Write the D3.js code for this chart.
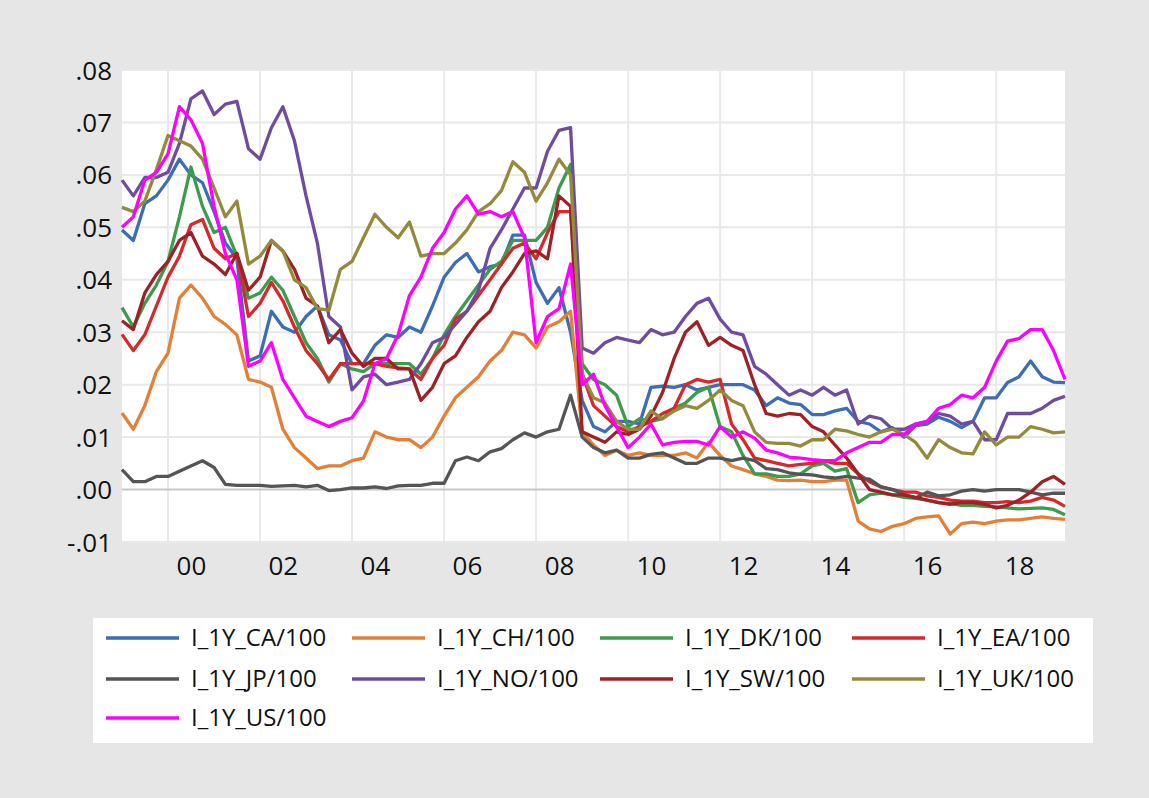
<!DOCTYPE html>
<html>
<head>
<meta charset="utf-8">
<script src="https://cdn.jsdelivr.net/npm/d3@7"></script>
<style>
  body { margin: 0; background: #e6e6e6; }
  text { font-family: "Open Sans", "Noto Sans", sans-serif; fill: #111; }
</style>
</head>
<body>
<div id="chart"></div>
<script>
// quarterly observations, 1999Q1 .. 2019Q3 (values in percent, plotted /100)
const startYear = 1999;
const nObs = 83;

const CA = [4.95, 4.75, 5.45, 5.6, 5.9, 6.3, 6.0, 5.85, 5.3, 4.7, 4.4, 2.45, 2.55, 3.4, 3.1, 3.0,
  3.3, 3.5, 2.95, 2.85, 2.4, 2.4, 2.75, 2.95, 2.9, 3.1, 3.0, 3.5, 4.05, 4.33, 4.5, 4.15,
  4.25, 4.3, 4.85, 4.85, 3.95, 3.55, 3.85, 3.0, 1.7, 1.2, 1.1, 1.3, 1.3, 1.25, 1.95, 1.97,
  1.95, 2.0, 1.9, 1.95, 2.0, 2.0, 2.0, 1.9, 1.6, 1.75, 1.65, 1.62, 1.43, 1.43, 1.5, 1.55,
  1.3, 1.25, 1.1, 1.18, 1.0, 1.22, 1.25, 1.38, 1.3, 1.18, 1.3, 1.75, 1.75, 2.04, 2.15, 2.45,
  2.15, 2.05, 2.04];
const CH = [1.46, 1.15, 1.6, 2.25, 2.6, 3.65, 3.9, 3.65, 3.3, 3.15, 2.95, 2.1, 2.05, 1.95, 1.15, 0.8,
  0.6, 0.4, 0.45, 0.45, 0.55, 0.6, 1.1, 1.0, 0.95, 0.95, 0.8, 1.0, 1.4, 1.75, 1.95, 2.15,
  2.45, 2.65, 3.0, 2.95, 2.7, 3.1, 3.2, 3.4, 1.1, 0.85, 0.65, 0.75, 0.65, 0.7, 0.65, 0.65,
  0.65, 0.7, 0.6, 0.9, 0.65, 0.45, 0.38, 0.3, 0.25, 0.18, 0.17, 0.18, 0.15, 0.15, 0.18, 0.18,
  -0.6, -0.75, -0.8, -0.7, -0.65, -0.55, -0.52, -0.5, -0.85, -0.65, -0.62, -0.65, -0.6, -0.58, -0.58, -0.55,
  -0.52, -0.55, -0.57];
const DK = [3.47, 3.1, 3.55, 3.9, 4.35, 5.2, 6.15, 5.4, 4.9, 5.0, 4.45, 3.65, 3.75, 4.05, 3.8, 3.3,
  2.8, 2.5, 2.05, 2.4, 2.3, 2.25, 2.4, 2.4, 2.4, 2.4, 2.2, 2.5, 2.95, 3.3, 3.6, 3.9,
  4.2, 4.35, 4.75, 4.75, 4.75, 5.0, 5.75, 6.2, 2.4, 2.1, 2.0, 1.8, 1.2, 1.35, 1.3, 1.35,
  1.55, 1.65, 1.85, 1.95, 1.2, 1.1, 0.65, 0.3, 0.3, 0.25, 0.25, 0.3, 0.45, 0.5, 0.35, 0.4,
  -0.25, -0.1, -0.07, -0.1, -0.15, -0.17, -0.2, -0.25, -0.27, -0.3, -0.3, -0.32, -0.33, -0.35, -0.37, -0.36,
  -0.35, -0.38, -0.48];
const EA = [2.96, 2.65, 2.95, 3.5, 4.05, 4.45, 5.05, 5.15, 4.6, 4.4, 4.5, 3.3, 3.55, 3.95, 3.6, 3.1,
  2.65, 2.4, 2.1, 2.4, 2.4, 2.4, 2.4, 2.35, 2.32, 2.3, 2.1, 2.5, 2.75, 3.25, 3.4, 3.7,
  4.0, 4.3, 4.6, 4.7, 4.4, 4.9, 5.3, 5.3, 2.2, 1.6, 1.4, 1.2, 1.1, 1.2, 1.3, 1.45,
  1.55, 2.0, 2.1, 2.05, 2.1, 1.25, 0.95, 0.6, 0.55, 0.5, 0.45, 0.48, 0.5, 0.55, 0.5, 0.5,
  0.3, 0.15, 0.05, 0.0, -0.05, -0.05, -0.12, -0.15, -0.2, -0.22, -0.22, -0.25, -0.25, -0.23, -0.25, -0.22,
  -0.15, -0.2, -0.32];
const JP = [0.38, 0.15, 0.15, 0.25, 0.25, 0.35, 0.45, 0.55, 0.42, 0.1, 0.08, 0.08, 0.08, 0.06, 0.07, 0.08,
  0.05, 0.08, -0.02, 0.0, 0.03, 0.03, 0.05, 0.02, 0.07, 0.08, 0.08, 0.12, 0.12, 0.55, 0.62, 0.55,
  0.72, 0.78, 0.95, 1.08, 1.0, 1.1, 1.15, 1.8, 1.0, 0.8, 0.7, 0.75, 0.6, 0.6, 0.67, 0.7,
  0.6, 0.5, 0.5, 0.6, 0.6, 0.55, 0.6, 0.55, 0.4, 0.38, 0.32, 0.29, 0.28, 0.24, 0.22, 0.25,
  0.22, 0.2, 0.05, 0.0, -0.1, -0.16, -0.05, -0.12, -0.1, -0.03, 0.0, -0.03, 0.0, 0.0, 0.0, -0.05,
  -0.1, -0.07, -0.07];
const NO = [5.9, 5.6, 5.95, 5.95, 6.05, 6.6, 7.45, 7.6, 7.15, 7.35, 7.4, 6.5, 6.3, 6.9, 7.3, 6.65,
  5.6, 4.7, 3.3, 3.1, 1.9, 2.15, 2.2, 2.0, 2.05, 2.1, 2.4, 2.8, 2.9, 3.15, 3.4, 3.8,
  4.6, 4.95, 5.35, 5.75, 5.75, 6.45, 6.85, 6.9, 2.7, 2.6, 2.8, 2.9, 2.85, 2.8, 3.05, 2.95,
  3.0, 3.3, 3.55, 3.65, 3.25, 3.0, 2.95, 2.35, 2.2, 2.0, 1.8, 1.9, 1.8, 1.95, 1.8, 1.9,
  1.25, 1.4, 1.35, 1.15, 1.15, 1.25, 1.3, 1.45, 1.4, 1.25, 1.3, 0.95, 0.95, 1.45, 1.45, 1.45,
  1.55, 1.7, 1.78];
const SW = [3.22, 3.05, 3.75, 4.1, 4.35, 4.75, 4.9, 4.45, 4.3, 4.1, 4.5, 3.8, 4.05, 4.75, 4.55, 4.2,
  3.65, 3.5, 2.8, 3.05, 2.6, 2.35, 2.5, 2.5, 2.3, 2.3, 1.7, 1.95, 2.4, 2.55, 2.9, 3.2,
  3.4, 3.85, 4.15, 4.5, 4.55, 4.4, 5.6, 5.4, 1.1, 1.0, 0.9, 1.1, 1.05, 1.15, 1.4, 1.85,
  2.5, 3.0, 3.2, 2.75, 2.9, 2.75, 2.65, 2.0, 1.45, 1.4, 1.45, 1.43, 1.2, 1.1, 0.85, 0.6,
  0.3, 0.0, -0.05, -0.1, -0.1, -0.15, -0.2, -0.25, -0.28, -0.25, -0.25, -0.28, -0.35, -0.3, -0.2, -0.05,
  0.15, 0.25, 0.1];
const UK = [5.38, 5.3, 5.5, 6.1, 6.75, 6.65, 6.55, 6.3, 5.75, 5.2, 5.5, 4.3, 4.45, 4.75, 4.55, 4.0,
  3.85, 3.45, 3.42, 4.2, 4.35, 4.8, 5.25, 5.0, 4.8, 5.1, 4.45, 4.5, 4.5, 4.7, 4.95, 5.3,
  5.45, 5.7, 6.25, 6.05, 5.5, 5.85, 6.3, 6.0, 2.2, 1.75, 1.65, 1.3, 1.15, 1.15, 1.5, 1.35,
  1.5, 1.6, 1.55, 1.7, 1.9, 1.7, 1.6, 1.1, 0.9, 0.88, 0.88, 0.83, 0.95, 0.95, 1.15, 1.12,
  1.05, 1.0, 1.1, 1.15, 1.05, 0.9, 0.6, 0.95, 0.8, 0.7, 0.68, 1.1, 0.85, 1.0, 1.0, 1.2,
  1.15, 1.08, 1.1];
const US = [5.0, 5.2, 5.9, 6.05, 6.4, 7.3, 7.05, 6.6, 5.4, 4.5, 4.0, 2.35, 2.45, 2.8, 2.1, 1.75,
  1.4, 1.3, 1.2, 1.3, 1.37, 1.69, 2.4, 2.5, 2.95, 3.7, 4.05, 4.6, 4.9, 5.35, 5.6, 5.25,
  5.3, 5.2, 5.3, 4.8, 2.8, 3.3, 3.45, 4.3, 2.0, 2.2, 1.6, 1.2, 0.8, 1.0, 1.25, 0.85,
  0.9, 0.92, 0.92, 0.85, 1.2, 1.0, 1.1, 0.98, 0.75, 0.7, 0.62, 0.6, 0.57, 0.55, 0.55, 0.7,
  0.8, 0.9, 0.9, 1.05, 1.05, 1.25, 1.3, 1.55, 1.62, 1.8, 1.75, 1.95, 2.45, 2.83, 2.88, 3.05,
  3.05, 2.65, 2.1];

const seriesNames = ["I_1Y_CA/100", "I_1Y_CH/100", "I_1Y_DK/100", "I_1Y_EA/100", "I_1Y_JP/100",
                     "I_1Y_NO/100", "I_1Y_SW/100", "I_1Y_UK/100", "I_1Y_US/100"];
const seriesValues = [CA, CH, DK, EA, JP, NO, SW, UK, US];
const seriesColors = ["#3d6db5", "#e37f36", "#3e9a4d", "#d42a2c", "#555555",
                      "#6e4c9f", "#9c2227", "#948a3c", "#ff00ff"];
const yTicks = [-0.01, 0, 0.01, 0.02, 0.03, 0.04, 0.05, 0.06, 0.07, 0.08];
const xTickYears = [2000, 2002, 2004, 2006, 2008, 2010, 2012, 2014, 2016, 2018];

const width = 1149;
const height = 798;
const plot = { left: 122, right: 1065, top: 70, bottom: 542 };

const dates = d3.range(nObs).map(i => new Date(startYear, i * 3, 1));

const svg = d3.select("#chart")
              .append("svg")
              .attr("width", width)
              .attr("height", height);

svg.append("rect")
   .attr("width", width)
   .attr("height", height)
   .attr("fill", "#e6e6e6");

// plot area
svg.append("rect")
   .attr("x", plot.left)
   .attr("y", plot.top)
   .attr("width", plot.right - plot.left)
   .attr("height", plot.bottom - plot.top)
   .attr("fill", "#ffffff");

const xScale = d3.scaleTime()
                 .domain([new Date(1999, 0, 1), new Date(2019, 6, 1)])
                 .range([plot.left, plot.right]);

const yScale = d3.scaleLinear()
                 .domain([-0.01, 0.08])
                 .range([plot.bottom, plot.top]);

// grid lines
svg.append("g")
   .selectAll("line")
   .data(yTicks.filter(d => d !== 0))
   .enter()
   .append("line")
   .attr("x1", plot.left)
   .attr("x2", plot.right)
   .attr("y1", d => yScale(d))
   .attr("y2", d => yScale(d))
   .attr("stroke", "#e9e9e9")
   .attr("stroke-width", 2);

svg.append("g")
   .selectAll("line")
   .data(xTickYears)
   .enter()
   .append("line")
   .attr("x1", d => xScale(new Date(d, 0, 1)))
   .attr("x2", d => xScale(new Date(d, 0, 1)))
   .attr("y1", plot.top)
   .attr("y2", plot.bottom)
   .attr("stroke", "#e9e9e9")
   .attr("stroke-width", 2);

// zero line
svg.append("line")
   .attr("x1", plot.left)
   .attr("x2", plot.right)
   .attr("y1", yScale(0))
   .attr("y2", yScale(0))
   .attr("stroke", "#c8c8c8")
   .attr("stroke-width", 2);

// y axis labels, EViews style ".08" / "-.01"
const fmtY = d => d3.format(".2f")(d).replace("\u2212", "-").replace("0.", ".");
const yAxis = svg.append("g")
   .attr("transform", `translate(${plot.left - 10},0)`)
   .call(d3.axisLeft(yScale).tickValues(yTicks).tickFormat(fmtY).tickSize(0));
yAxis.select(".domain").remove();
yAxis.selectAll("text")
     .attr("x", 0)
     .attr("dy", "0.35em")
     .style("font-size", "26px")
     .style("font-family", "'Open Sans', sans-serif")
     .attr("fill", "#111");

// x axis labels centred in each labelled year
const xAxis = svg.append("g")
   .attr("transform", `translate(0,${plot.bottom})`)
   .call(d3.axisBottom(xScale)
           .tickValues(xTickYears.map(y => new Date(y, 6, 1)))
           .tickFormat(d3.timeFormat("%y"))
           .tickSize(0));
xAxis.select(".domain").remove();
xAxis.selectAll("text")
     .attr("y", 0)
     .attr("dy", "33px")
     .style("font-size", "26px")
     .style("font-family", "'Open Sans', sans-serif")
     .attr("fill", "#111");

// series lines
const line = d3.line()
               .x((d, i) => xScale(dates[i]))
               .y(d => yScale(d / 100));

svg.append("g")
   .selectAll("path")
   .data(seriesValues)
   .enter()
   .append("path")
   .attr("d", d => line(d))
   .attr("fill", "none")
   .attr("stroke", (d, i) => seriesColors[i])
   .attr("stroke-width", 3.3)
   .attr("stroke-linejoin", "round");

// legend
svg.append("rect")
   .attr("x", 93)
   .attr("y", 618)
   .attr("width", 1000)
   .attr("height", 125)
   .attr("fill", "#ffffff");

const colX = [106, 352, 600, 852];
const rowY = [638, 679, 718];

const items = svg.append("g")
   .selectAll("g")
   .data(seriesNames)
   .enter()
   .append("g")
   .attr("transform", (d, i) => `translate(${colX[i % 4]},${rowY[Math.floor(i / 4)]})`);

items.append("line")
     .attr("x1", 0)
     .attr("x2", 73)
     .attr("stroke", (d, i) => seriesColors[i])
     .attr("stroke-width", 3.3);

items.append("text")
     .attr("x", 85)
     .attr("dy", "0.35em")
     .style("font-size", "24px")
     .text(d => d);
</script>
</body>
</html>
